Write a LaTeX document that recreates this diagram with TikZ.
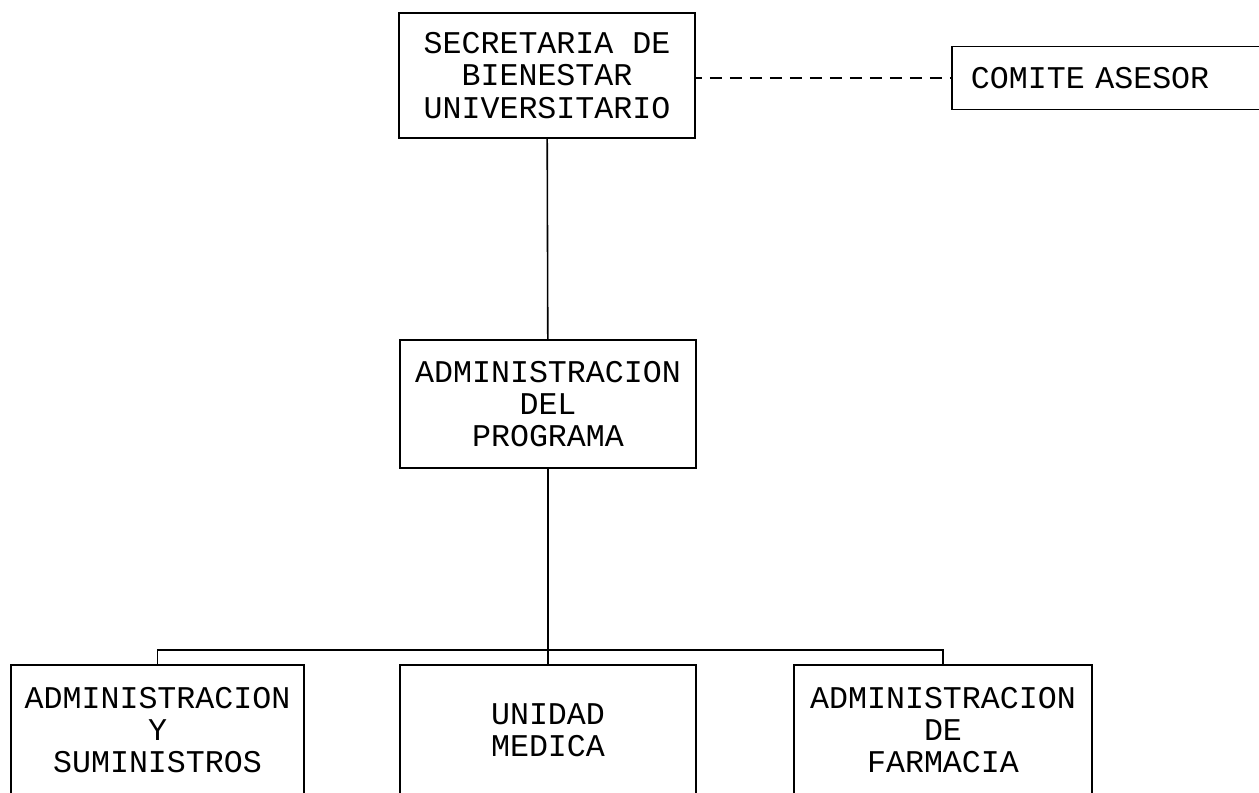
\documentclass[tikz,border=0pt]{standalone}
\usepackage{fontspec}
\newfontfamily\maquina{Liberation Mono}

\tikzset{
    caja/.style={draw, line width=1.1pt, minimum width=5.92cm, minimum height=2.5cm,
        align=center, inner sep=2pt, font=\maquina\fontsize{18}{18.3}\selectfont},
    linea/.style={line width=0.9pt},
    discontinua/.style={line width=0.9pt, dash pattern=on 0.24cm off 0.16cm, dash phase=0.12cm}
}

\begin{document}
\begin{tikzpicture}[x=0.02cm, y=-0.02cm]
        % marco
        \useasboundingbox (0,0) rectangle (1259,793);
        \clip (0,0) rectangle (1259,793);

        % Cajas
        \node[caja] (secretaria) at (547,75.5) {SECRETARIA DE\\BIENESTAR\\UNIVERSITARIO};
        \node[caja, anchor=west, minimum width=0pt, minimum height=1.26cm, text width=5.9cm,
            align=left, inner xsep=0.38cm] (comite) at (951,78) {COMITE ASESOR};
        \node[caja, minimum height=2.56cm] (programa) at (548,404) {ADMINISTRACION\\DEL\\PROGRAMA};

        % Nivel inferior
        \node[caja, minimum height=2.6cm, minimum width=5.86cm] (suministros) at (157.5,730) {ADMINISTRACION\\Y\\SUMINISTROS};
        \node[caja, minimum height=2.6cm] (medica) at (548,730) {UNIDAD\\MEDICA};
        \node[caja, minimum height=2.6cm, minimum width=5.96cm] (farmacia) at (943,730) {ADMINISTRACION\\DE\\FARMACIA};

        % Conexiones
        \coordinate (bus) at (548,650);
        \draw[discontinua] (secretaria.east |- comite.west) -- (comite.west);
        \draw[linea] (secretaria) -- (programa);
        \draw[linea] (programa) -- (medica);
        \draw[linea] (suministros.north) |- (bus) -| (farmacia.north);
    \end{tikzpicture}
\end{document}
